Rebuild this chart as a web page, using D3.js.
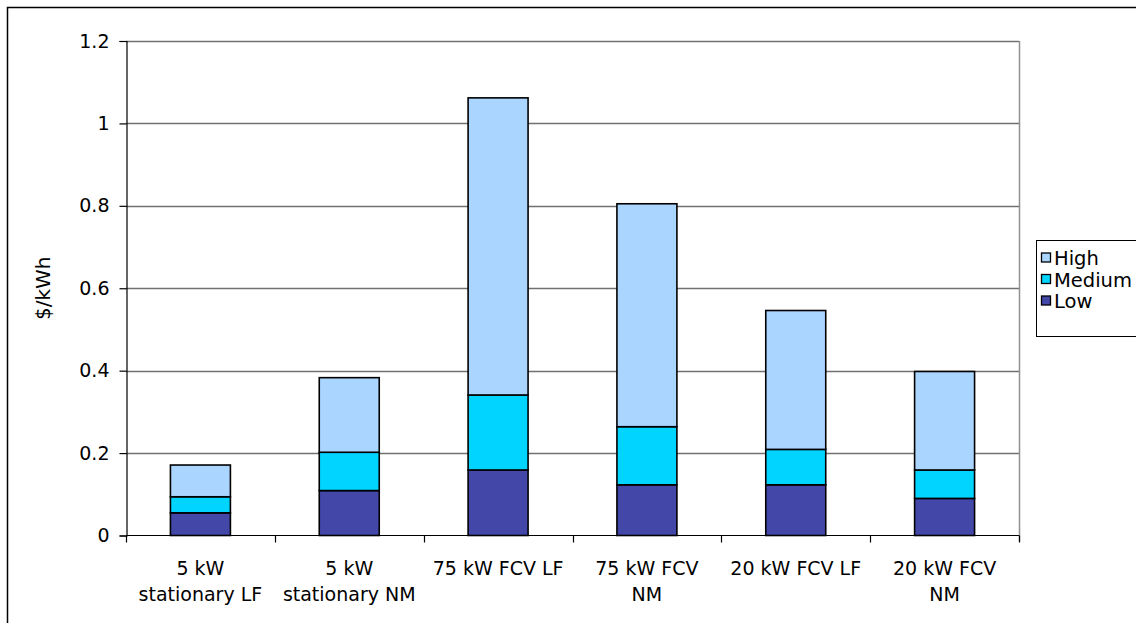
<!DOCTYPE html>
<html>
<head>
<meta charset="utf-8">
<script src="https://cdn.jsdelivr.net/npm/d3@7"></script>
<style>
html,body{margin:0;padding:0;background:#fff;}
svg text{font-family:"DejaVu Sans",Verdana,sans-serif;fill:#000;}
</style>
</head>
<body>
<svg id="chart" width="1136" height="623"></svg>
<script>
// ---- data ----
const categories = [["5 kW","stationary LF"],["5 kW","stationary NM"],["75 kW FCV LF"],["75 kW FCV","NM"],["20 kW FCV LF"],["20 kW FCV","NM"]];
const lowValues    = [0.055, 0.109, 0.159, 0.123, 0.123, 0.090];
const mediumValues = [0.039, 0.093, 0.182, 0.141, 0.086, 0.069];
const highValues   = [0.077, 0.181, 0.721, 0.541, 0.337, 0.239];
const seriesNames  = ["Low","Medium","High"];
const yTicks = [0, 0.2, 0.4, 0.6, 0.8, 1, 1.2];
const yTickLabels = ["0","0.2","0.4","0.6","0.8","1","1.2"];
const colors = {Low:"#4347A8", Medium:"#00D4FF", High:"#AAD5FF"};

const svg = d3.select("#chart");
const pLeft = 126, pRight = 1019, pTop = 41, pBottom = 535.5;

// outer frame
svg.append("rect").attr("x",7.5).attr("y",7.5).attr("width",1300).attr("height",800)
  .attr("fill","none").attr("stroke","#000").attr("stroke-width",1.5);

const idx = categories.map((c,i)=>i);
const x = d3.scaleBand().domain(idx).range([pLeft,pRight]).paddingInner(0.597).paddingOuter(0.2985);
const y = d3.scaleLinear().domain([0,1.2]).range([pBottom,pTop]);

// gridlines
svg.append("g").selectAll("line").data(yTicks.filter(d=>d>0)).join("line")
  .attr("x1",pLeft).attr("x2",pRight)
  .attr("y1",d=>Math.round(y(d))+0.5).attr("y2",d=>Math.round(y(d))+0.5)
  .attr("stroke","#707070").attr("stroke-width",1.3);
// right border
svg.append("line").attr("x1",pRight+0.5).attr("x2",pRight+0.5).attr("y1",pTop).attr("y2",pBottom+6)
  .attr("stroke","#909090").attr("stroke-width",1.5);

// stacked bars
const rows = idx.map(i=>({i, Low:lowValues[i], Medium:mediumValues[i], High:highValues[i]}));
const stack = d3.stack().keys(seriesNames)(rows);
svg.append("g").selectAll("g").data(stack).join("g")
  .attr("fill",d=>colors[d.key])
  .selectAll("rect").data(d=>d).join("rect")
  .attr("x",d=>x(d.data.i)).attr("width",x.bandwidth())
  .attr("y",d=>y(d[1])).attr("height",d=>y(d[0])-y(d[1]))
  .attr("stroke","#000").attr("stroke-width",1.6);

// y axis
const yAxis = d3.axisLeft(y).tickValues(yTicks).tickFormat((d,i)=>yTickLabels[i]).tickSize(7).tickPadding(10);
const gy = svg.append("g").attr("transform",`translate(${pLeft+0.5},0)`).call(yAxis);
gy.select(".domain").attr("stroke","#000").attr("stroke-width",1.2);
gy.selectAll(".tick line").attr("stroke","#000").attr("stroke-width",1.2);
gy.selectAll(".tick text").attr("font-size",19).attr("font-family","DejaVu Sans");

// x axis (ticks at category boundaries)
const bounds = d3.range(categories.length+1).map(k=>pLeft + k*(pRight-pLeft)/categories.length);
svg.append("line").attr("x1",pLeft).attr("x2",pRight).attr("y1",pBottom).attr("y2",pBottom)
  .attr("stroke","#000").attr("stroke-width",1.2);
svg.append("g").selectAll("line").data(bounds).join("line")
  .attr("x1",d=>Math.round(d)+0.5).attr("x2",d=>Math.round(d)+0.5)
  .attr("y1",pBottom).attr("y2",pBottom+7).attr("stroke","#000").attr("stroke-width",1.2);

// category labels
const lab = svg.append("g").selectAll("text").data(categories).join("text")
  .attr("text-anchor","middle").attr("font-size",19)
  .attr("x",(d,i)=>x(i)+x.bandwidth()/2).attr("y",575);
lab.selectAll("tspan").data(d=>d).join("tspan")
  .attr("x",function(){return this.parentNode.getAttribute("x");})
  .attr("dy",(d,j)=>j===0?0:26).text(d=>d);

// y title
svg.append("text").attr("transform",`translate(50,${(pTop+pBottom)/2}) rotate(-90)`)
  .attr("text-anchor","middle").attr("font-size",20).text("$/kWh");

// legend
const lg = svg.append("g");
lg.append("rect").attr("x",1036.5).attr("y",240.5).attr("width",200).attr("height",96)
  .attr("fill","#fff").attr("stroke","#000").attr("stroke-width",1);
const legendItems = ["High","Medium","Low"];
legendItems.forEach((k,j)=>{
  const cy = 258 + j*21.5;
  lg.append("rect").attr("x",1041.5).attr("y",cy-5).attr("width",9).attr("height",9)
    .attr("fill",colors[k]).attr("stroke","#000").attr("stroke-width",1.3);
  lg.append("text").attr("x",1054).attr("y",cy+7).attr("font-size",19.5).text(k);
});
</script>
</body>
</html>
